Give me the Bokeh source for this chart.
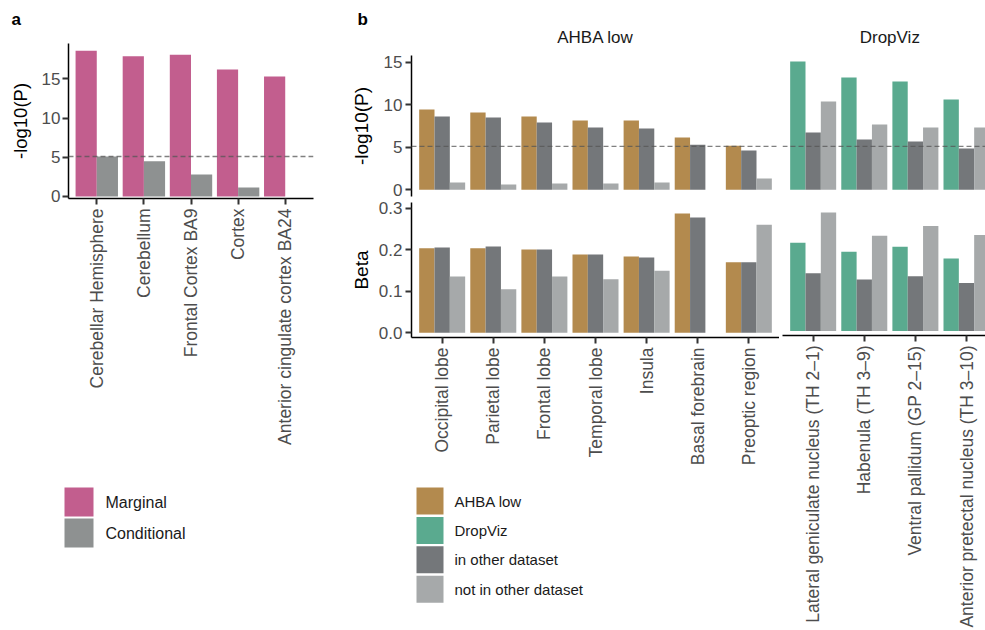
import math
import numpy as np
from bokeh.plotting import figure
from bokeh.models import (Range1d, FixedTicker, Span, Label, ColumnDataSource,
                          PrintfTickFormatter)
from bokeh.core.properties import value
from bokeh.layouts import row, column
from bokeh.transform import dodge
from bokeh.embed import file_html
from bokeh.resources import INLINE

FONT = "Liberation Sans"
NAN = float("nan")

# ---------------- data ----------------
a_regions = ["Cerebellar Hemisphere", "Cerebellum", "Frontal Cortex BA9", "Cortex",
             "Anterior cingulate cortex BA24"]
a_marginal = [18.6, 17.9, 18.1, 16.2, 15.3]
a_conditional = [5.1, 4.5, 2.8, 1.15, NAN]

ahba_regions = ["Occipital lobe", "Parietal lobe", "Frontal lobe", "Temporal lobe",
                "Insula", "Basal forebrain", "Preoptic region"]
ahba_p_main = [9.44, 9.09, 8.62, 8.15, 8.15, 6.15, 5.17]
ahba_p_in = [8.62, 8.50, 7.91, 7.32, 7.21, 5.29, 4.62]
ahba_p_not = [0.86, 0.63, 0.74, 0.74, 0.86, NAN, 1.33]
ahba_beta_main = [0.204, 0.204, 0.201, 0.189, 0.184, 0.288, 0.170]
ahba_beta_in = [0.206, 0.208, 0.201, 0.189, 0.182, 0.278, 0.170]
ahba_beta_not = [0.136, 0.105, 0.136, 0.129, 0.150, NAN, 0.261]

drop_regions = ["Lateral geniculate nucleus (TH 2\u20131)", "Habenula (TH 3\u20139)",
                "Ventral pallidum (GP 2\u201315)", "Anterior pretectal nucleus (TH 3\u201310)"]
drop_p_main = [15.08, 13.2, 12.73, 10.61]
drop_p_in = [6.74, 5.91, 5.68, 4.86]
drop_p_not = [10.38, 7.68, 7.32, 7.32]
drop_beta_main = [0.216, 0.194, 0.206, 0.177]
drop_beta_in = [0.141, 0.126, 0.134, 0.117]
drop_beta_not = [0.290, 0.233, 0.257, 0.235]

threshold = 5.1
p_ticks = [0, 5, 10, 15]
beta_ticks = [0.0, 0.1, 0.2, 0.3]

a_series = ["Marginal", "Conditional"]
b_series = ["AHBA low", "DropViz", "in other dataset", "not in other dataset"]
facet_titles = ["AHBA low", "DropViz"]

PINK = "#C25E8E"
COND = "#8E9191"
BROWN = "#B38A4E"
GREEN = "#5AAA8F"
DARK = "#74777A"
LIGHT = "#A6A9AA"
TICK_TXT = "#4D4D4D"
TXT = "#1A1A1A"


def base_fig(w, h, left, right, top, bottom, xr, yr, xaxis, yaxis):
    p = figure(width=w, height=h, x_range=xr, y_range=yr, output_backend="svg",
               toolbar_location=None,
               x_axis_location="below" if xaxis else None,
               y_axis_location="left" if yaxis else None,
               min_border=0, min_border_left=left, min_border_right=right,
               min_border_top=top, min_border_bottom=bottom)
    p.outline_line_color = None
    p.xgrid.visible = False
    p.ygrid.visible = False
    p.background_fill_color = "white"
    p.border_fill_color = "white"
    return p


def blank_fig(w, h):
    # pixel coordinates, y pointing down
    return base_fig(w, h, 0, 0, 0, 0, Range1d(0, w), Range1d(h, 0), False, False)


def style_axis(ax, size, standoff):
    ax.axis_line_color = "black"
    ax.axis_line_width = 1.5
    ax.major_tick_line_color = "#333333"
    ax.major_tick_line_width = 2
    ax.major_tick_out = 6
    ax.major_tick_in = 0
    ax.minor_tick_line_color = None
    ax.major_label_text_font = FONT
    ax.major_label_text_font_size = size
    ax.major_label_text_color = TICK_TXT
    ax.major_label_standoff = standoff


def style_x(p, n, labels):
    ax = p.xaxis[0]
    ticks = list(range(1, n + 1))
    ax.ticker = FixedTicker(ticks=ticks)
    ax.major_label_overrides = {t: lab for t, lab in zip(ticks, labels)}
    ax.major_label_orientation = math.pi / 2
    style_axis(ax, "17.5px", 4)


def style_y(p, ticks, standoff, fmt=None, title=None, title_standoff=5, title_size="19px"):
    ax = p.yaxis[0]
    ax.ticker = FixedTicker(ticks=ticks)
    if fmt:
        ax.formatter = PrintfTickFormatter(format=fmt)
    style_axis(ax, "17px", standoff)
    if title:
        ax.axis_label = title
        ax.axis_label_text_font = FONT
        ax.axis_label_text_font_size = title_size
        ax.axis_label_text_font_style = "normal"
        ax.axis_label_text_color = "black"
        ax.axis_label_standoff = title_standoff


def add_text(p, text, x, y, size, bold=False, align="left", color=TXT):
    p.add_layout(Label(x=x, y=y, x_units="data", y_units="data", text=text,
                       text_font=FONT, text_font_size=size,
                       text_font_style="bold" if bold else "normal",
                       text_color=color, text_align=align,
                       text_baseline="middle"))


def draw_key(p, labels, colors, left, top, size, pitch, standoff, fsize):
    n = len(labels)
    tops = [top + i * pitch for i in range(n)]
    src = ColumnDataSource(dict(
        left=[left] * n, right=[left + size] * n, top=tops,
        bottom=[t + size for t in tops], color=colors,
        tx=[left + size + standoff] * n, ty=[t + size / 2 for t in tops], label=labels))
    p.quad(left="left", right="right", top="top", bottom="bottom", fill_color="color",
           line_color=None, source=src)
    p.text(x="tx", y="ty", text="label", source=src, text_font=value(FONT),
           text_font_size=fsize, text_baseline="middle", text_color=TXT)


def add_threshold(p):
    p.add_layout(Span(location=threshold, dimension="width", line_color="#555555",
                      line_alpha=0.75, line_dash="5 3", line_width=1.4))


# ---------------- panel a ----------------
na = len(a_regions)
headA = blank_fig(340, 43)
add_text(headA, "a", 11, 19, "17px", bold=True, color="black")

figA = base_fig(340, 427, 68, 27, 0, 272, Range1d(0.4, na + 0.6),
                Range1d(-0.26, 19.52), True, True)
srcA = ColumnDataSource(dict(x=np.arange(1, na + 1, dtype=float),
                             marg=np.array(a_marginal, dtype=float),
                             cond=np.array(a_conditional, dtype=float)))
figA.vbar(x=dodge("x", -0.225), top="marg", bottom=0, width=0.45, source=srcA,
          fill_color=PINK, line_color=None)
figA.vbar(x=dodge("x", 0.225), top="cond", bottom=0, width=0.45, source=srcA,
          fill_color=COND, line_color=None)
add_threshold(figA)
style_x(figA, na, a_regions)
style_y(figA, p_ticks, 2, title="-log10(P)", title_standoff=8, title_size="18.5px")

legA_fig = blank_fig(340, 160)
draw_key(legA_fig, a_series, [PINK, COND], 64, 17, 29, 31, 12, "16px")

# ---------------- panel b ----------------
nh = len(ahba_regions)
nd = len(drop_regions)
ppu = 368 / 7.2  # pixels per category unit, shared by both facets
drop_end = 0.4 + 203 / ppu

headB = blank_fig(645, 51)
add_text(headB, "b", 17, 19, "17px", bold=True, color="black")
add_text(headB, facet_titles[0], 255, 37.4, "17px", align="center")
add_text(headB, facet_titles[1], 549.3, 37.4, "17px", align="center")

ahba_top = base_fig(439, 148, 71, 0, 4, 3, Range1d(0.4, nh + 0.6),
                    Range1d(-0.79, 15.78), False, True)
drop_top = base_fig(206, 148, 3, 0, 4, 3, Range1d(0.4, drop_end),
                    Range1d(-0.79, 15.78), False, False)
ahba_bot = base_fig(439, 278, 71, 0, 3, 140, Range1d(0.4, nh + 0.6),
                    Range1d(-0.0113, 0.3144), True, True)
drop_bot = base_fig(206, 431, 3, 0, 3, 293, Range1d(0.4, drop_end),
                    Range1d(-0.0113, 0.3144), True, False)


def bars(p, n, main, inn, notin, main_color):
    src = ColumnDataSource(dict(x=np.arange(1, n + 1, dtype=float),
                                main=np.array(main, dtype=float),
                                inn=np.array(inn, dtype=float),
                                notin=np.array(notin, dtype=float)))
    p.vbar(x=dodge("x", -0.3), top="main", bottom=0, width=0.3, source=src,
           fill_color=main_color, line_color=None)
    p.vbar(x=dodge("x", 0.0), top="inn", bottom=0, width=0.3, source=src,
           fill_color=DARK, line_color=None)
    p.vbar(x=dodge("x", 0.3), top="notin", bottom=0, width=0.3, source=src,
           fill_color=LIGHT, line_color=None)


bars(ahba_top, nh, ahba_p_main, ahba_p_in, ahba_p_not, BROWN)
bars(drop_top, nd, drop_p_main, drop_p_in, drop_p_not, GREEN)
bars(ahba_bot, nh, ahba_beta_main, ahba_beta_in, ahba_beta_not, BROWN)
bars(drop_bot, nd, drop_beta_main, drop_beta_in, drop_beta_not, GREEN)

add_threshold(ahba_top)
add_threshold(drop_top)

style_y(ahba_top, p_ticks, 3, title="-log10(P)", title_standoff=9)
style_y(ahba_bot, beta_ticks, 3, fmt="%.1f", title="Beta", title_standoff=4)
style_x(ahba_bot, nh, ahba_regions)
style_x(drop_bot, nd, drop_regions)

legB_fig = blank_fig(439, 153)
draw_key(legB_fig, b_series, [BROWN, GREEN, DARK, LIGHT], 76, 10, 27, 29.4, 11, "15px")

left = column(row(headA), figA, row(legA_fig))
right = column(headB, row(ahba_top, drop_top),
               row(column(ahba_bot, row(legB_fig)), drop_bot))
layout = row(left, right)

open("out.html", "w").write(file_html(layout, INLINE))
